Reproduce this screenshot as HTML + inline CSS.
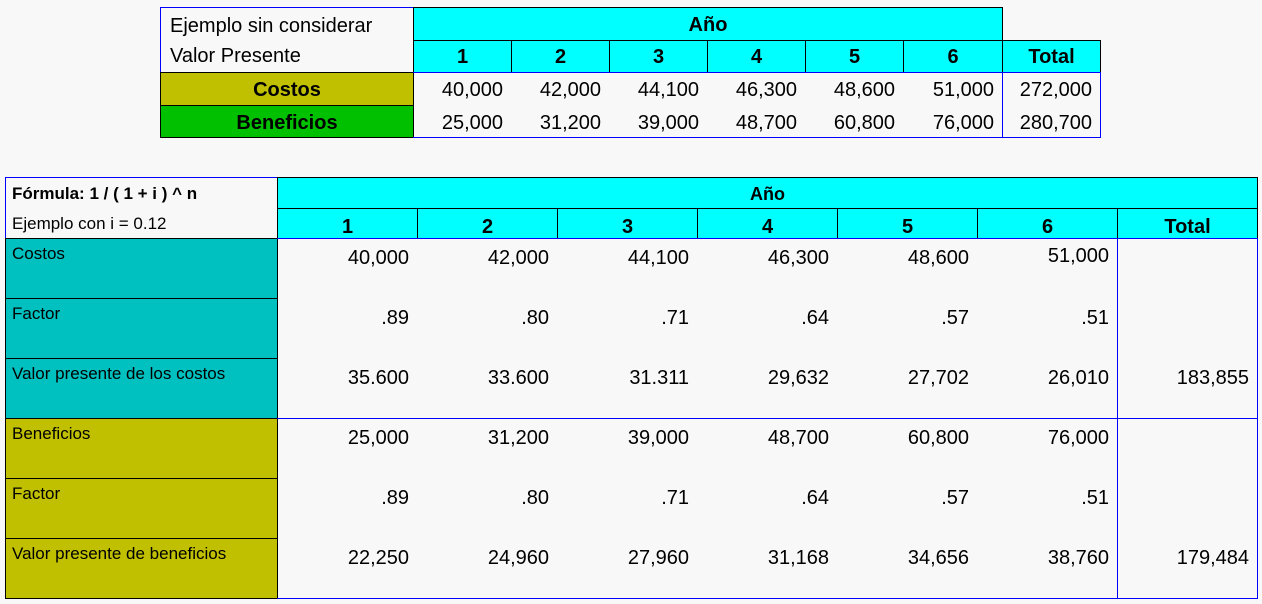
<!DOCTYPE html>
<html><head><meta charset="utf-8"><style>
body{margin:0;width:1262px;height:604px;background:#f8f8f8;position:relative;overflow:hidden;font-family:"Liberation Sans",Arial,sans-serif;color:#000}
.c{position:absolute;box-sizing:border-box;white-space:nowrap;overflow:hidden}
</style></head><body>
<script>
function cell(x,y,w,h,txt,css){
  var d=document.createElement('div');d.className='c';
  d.style.cssText='left:'+x+'px;top:'+y+'px;width:'+w+'px;height:'+h+'px;'+(css||'');
  d.textContent=txt;
  
  
  document.body.appendChild(d);return d;
}
// Top table
var tcols=[413,511,609,707,805,903,1002,1100];
var topCost=['40,000','42,000','44,100','46,300','48,600','51,000','272,000'];
var topBen=['25,000','31,200','39,000','48,700','60,800','76,000','280,700'];
var topHead=['1','2','3','4','5','6','Total'];
cell(160,7,254,66,'','border:1px solid #00f;');
cell(170,15,240,28,'Ejemplo sin considerar','font-size:20px;');
cell(170,45,240,28,'Valor Presente','font-size:20px;');
cell(413,7,590,34,'Año','background:#0ff;border:1px solid #000;font-weight:bold;font-size:20px;text-align:center;line-height:34px;');
for(var i=0;i<7;i++){
  cell(tcols[i],40,tcols[i+1]-tcols[i]+1,33,topHead[i],'background:#0ff;border:1px solid #000;font-weight:bold;font-size:20px;text-align:center;line-height:33px;');
}
cell(160,72,254,34,'Costos','background:#c0c000;border:1px solid #000;font-weight:bold;font-size:20px;text-align:center;line-height:35px;');
cell(160,105,254,33,'Beneficios','background:#00c000;border:1px solid #000;font-weight:bold;font-size:20px;text-align:center;line-height:35px;');
cell(413,72,590,66,'','border:1px solid #00f;border-left:none;');
cell(1002,72,99,66,'','border:1px solid #00f;');
for(var i=0;i<7;i++){
  cell(tcols[i],75,tcols[i+1]-tcols[i]-8,30,topCost[i],'font-size:20px;text-align:right;line-height:30px;');
  cell(tcols[i],108,tcols[i+1]-tcols[i]-8,30,topBen[i],'font-size:20px;text-align:right;line-height:30px;');
}
// Bottom table
var bcols=[277,417,557,697,837,977,1117,1257];
var rowLabels=['Costos','Factor','Valor presente de los costos','Beneficios','Factor','Valor presente de beneficios'];
var costos=['40,000','42,000','44,100','46,300','48,600','51,000',''];
var factor=['.89','.80','.71','.64','.57','.51',''];
var vpCostos=['35.600','33.600','31.311','29,632','27,702','26,010','183,855'];
var beneficios=['25,000','31,200','39,000','48,700','60,800','76,000',''];
var vpBen=['22,250','24,960','27,960','31,168','34,656','38,760','179,484'];
var rows=[costos,factor,vpCostos,beneficios,factor,vpBen];
var offs=[6,66,126,6,66,126];
cell(5,177,273,62,'','border:1px solid #00f;');
cell(12,181,265,26,'Fórmula: 1 / ( 1 + i ) ^ n','font-size:17px;font-weight:bold;line-height:26px;');
cell(12,211,265,26,'Ejemplo con i = 0.12','font-size:17px;line-height:26px;');
cell(277,177,981,32,'Año','background:#0ff;border:1px solid #000;font-weight:bold;font-size:18px;text-align:center;line-height:32px;');
for(var i=0;i<7;i++){
  cell(bcols[i],208,bcols[i+1]-bcols[i]+1,31,topHead[i],'background:#0ff;border:1px solid #000;font-weight:bold;font-size:20px;text-align:center;line-height:36px;');
}
for(var r=0;r<6;r++){
  var y=238+r*60;
  cell(5,y,273,61,rowLabels[r],'background:'+(r<3?'#00c0c0':'#c0c000')+';border:1px solid #000;font-size:17px;padding:5px 0 0 6px;');
}
cell(277,238,981,181,'','border:1px solid #00f;border-left:none;');
cell(277,418,981,181,'','border:1px solid #00f;border-left:none;border-top:none;');
cell(1117,238,141,361,'','border-left:1px solid #00f;');
for(var r=0;r<6;r++){
  var base=(r<3?238:418)+offs[r];
  for(var i=0;i<7;i++){
    var off=(i==5&&r==0)?-2:0;
    cell(bcols[i],base+off,bcols[i+1]-bcols[i]-8,28,rows[r][i],'font-size:20px;text-align:right;line-height:28px;');
  }
}
</script>
</body></html>
